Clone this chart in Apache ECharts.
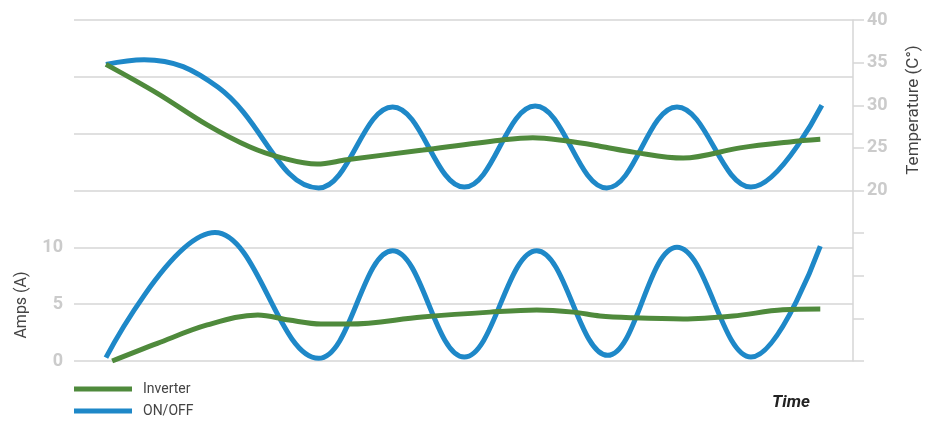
<!DOCTYPE html>
<html>
<head>
<meta charset="utf-8">
<script src="https://cdn.jsdelivr.net/npm/echarts@6/dist/echarts.min.js"></script>
<style>
html,body{margin:0;padding:0;background:#fff;}
#chart{width:931px;height:422px;}
</style>
</head>
<body>
<div id="chart"></div>
<script>
// ---- data (time in arbitrary units 0..100) ----
const legendNames = ['Inverter', 'ON/OFF'];

// Temperature (°C), right axis
const tempOnOffTime = [4.1, 9.0, 18.5, 31.4, 40.9, 50.1, 59.2, 68.4, 77.4, 86.9, 96.0];
const tempOnOff     = [34.8, 35.35, 32.1, 20.3, 29.8, 20.4, 29.9, 20.3, 29.8, 20.4, 30.0];

const tempInvTime = [4.1, 10.7, 17.1, 22.6, 26.8, 31.2, 35.0, 44.8, 54.7, 58.9, 63.3, 67.5, 71.8, 78.2, 85.5, 91.9, 95.8];
const tempInv     = [34.8, 31.4, 27.7, 25.1, 23.8, 23.1, 23.6, 24.75, 25.9, 26.2, 25.8, 25.2, 24.5, 23.8, 25.0, 25.7, 26.0];

// Current (A), left axis
const ampsOnOffTime = [4.1, 18.1, 31.4, 40.9, 50.1, 59.4, 68.5, 77.4, 86.9, 95.8];
const ampsOnOff     = [0.3, 11.3, 0.24, 9.7, 0.35, 9.7, 0.5, 10.0, 0.35, 10.1];

const ampsInvTime = [4.9, 10.7, 17.1, 23.6, 27.6, 31.7, 35.3, 44.7, 53.4, 59.4, 64.1, 67.5, 71.8, 78.2, 84.6, 91.0, 95.8];
const ampsInv     = [0.0, 1.55, 3.17, 4.05, 3.6, 3.25, 3.25, 3.87, 4.3, 4.49, 4.3, 3.96, 3.8, 3.7, 3.96, 4.5, 4.57];

// axis ticks
const ampTickLabels = [0, 5, 10];
const tempTickLabels = [20, 25, 30, 35, 40];

// ---- build ----
const zip = (t, v) => t.map((x, i) => [x, v[i]]);
const BLUE = '#1E88C8', GREEN = '#4F8A3C';
const labelGray = '#CBCBCB';

const chart = echarts.init(document.getElementById('chart'));
chart.setOption({
  animation: false,
  grid: { left: 74, right: 78, top: 20, bottom: 61, containLabel: false },
  legend: {
    data: legendNames,
    orient: 'vertical',
    left: 74, top: 382, padding: 0,
    itemWidth: 58, itemHeight: 5, itemGap: 8,
    icon: 'rect',
    textStyle: { fontFamily: 'Roboto', fontSize: 14, color: '#444', padding: [0, 0, 0, 6] }
  },
  xAxis: {
    type: 'value', min: 0, max: 100,
    show: false
  },
  yAxis: [
    {
      type: 'value', min: 0, max: 30, interval: 5, position: 'left',
      axisLine: { show: false }, axisTick: { show: false },
      splitLine: { lineStyle: { color: '#D6D6D6', width: 1.5 } },
      axisLabel: {
        margin: 11, fontFamily: 'Roboto', fontWeight: 'bold', fontSize: 18, color: labelGray,
        formatter: v => ampTickLabels.includes(v) ? String(v) : ''
      }
    },
    {
      type: 'value', min: 0, max: 40, interval: 5, position: 'right',
      axisLine: { show: true, lineStyle: { color: '#D6D6D6', width: 1.5 } },
      axisTick: { show: true, length: 11, lineStyle: { color: '#D6D6D6', width: 1.5 } },
      splitLine: { show: false },
      axisLabel: {
        margin: 14, fontFamily: 'Roboto', fontWeight: 'bold', fontSize: 18, color: labelGray,
        formatter: v => tempTickLabels.includes(v) ? String(v) : ''
      }
    }
  ],
  series: [
    { name: 'ON/OFF', type: 'line', yAxisIndex: 1, data: zip(tempOnOffTime, tempOnOff), smooth: 0.4, showSymbol: false, lineStyle: { color: BLUE, width: 5 }, itemStyle: { color: BLUE } },
    { name: 'ON/OFF', type: 'line', yAxisIndex: 0, data: zip(ampsOnOffTime, ampsOnOff), smooth: 0.4, showSymbol: false, lineStyle: { color: BLUE, width: 5 }, itemStyle: { color: BLUE } },
    { name: 'Inverter', type: 'line', yAxisIndex: 1, data: zip(tempInvTime, tempInv), smooth: 0.35, showSymbol: false, lineStyle: { color: GREEN, width: 5 }, itemStyle: { color: GREEN } },
    { name: 'Inverter', type: 'line', yAxisIndex: 0, data: zip(ampsInvTime, ampsInv), smooth: 0.35, showSymbol: false, lineStyle: { color: GREEN, width: 5 }, itemStyle: { color: GREEN } }
  ],
  graphic: [
    { type: 'text', x: 914, y: 110, rotation: Math.PI / 2,
      style: { text: 'Temperature (C°)', fontFamily: 'Roboto', fontSize: 17, fill: '#444', textAlign: 'center', textVerticalAlign: 'middle' } },
    { type: 'text', x: 22, y: 305, rotation: Math.PI / 2,
      style: { text: 'Amps (A)', fontFamily: 'Roboto', fontSize: 16, fill: '#444', textAlign: 'center', textVerticalAlign: 'middle' } },
    { type: 'text', x: 791, y: 403,
      style: { text: 'Time', fontFamily: 'Roboto', fontSize: 17, fontWeight: 'bold', fontStyle: 'italic', fill: '#222', textAlign: 'center', textVerticalAlign: 'middle' } }
  ]
});
</script>
</body>
</html>
